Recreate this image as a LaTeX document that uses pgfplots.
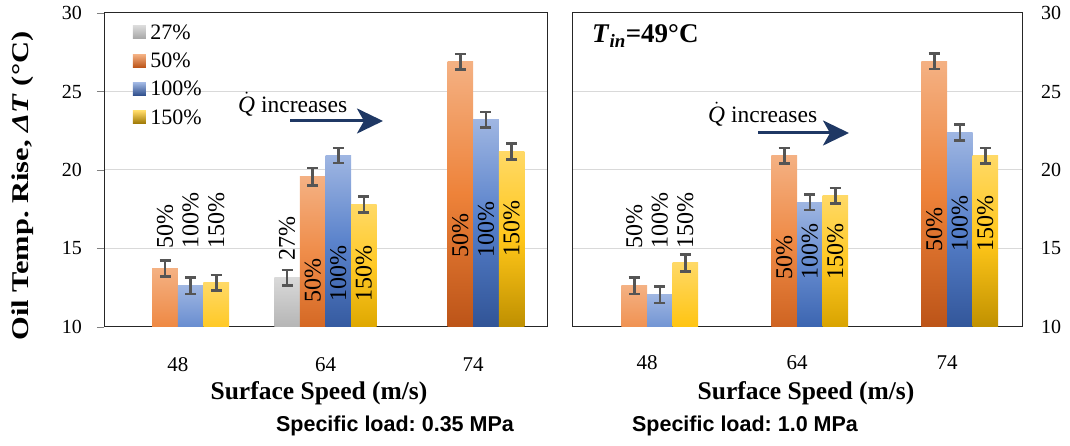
\documentclass[border=0pt]{standalone}
\usepackage{fontspec}
\setmainfont{Liberation Serif}
\newfontfamily\arialfont{Liberation Sans}
\usepackage{pgfplots}
\pgfplotsset{compat=1.18}
\usetikzlibrary{arrows.meta}
\frenchspacing

\definecolor{gridgray}{HTML}{D9D9D9}
\definecolor{errgray}{HTML}{555555}
\definecolor{arrowblue}{HTML}{1F3864}
% gradient stops along a whole bar (from value 0): A at 0, B at 0.37, C at 0.65, D at the top
\definecolor{orgA}{HTML}{7A3000}\definecolor{orgB}{HTML}{BC5418}
\definecolor{orgC}{HTML}{ED7D31}\definecolor{orgD}{HTML}{F4B183}
\definecolor{bluA}{HTML}{1F3560}\definecolor{bluB}{HTML}{2C4C8A}
\definecolor{bluC}{HTML}{4472C4}\definecolor{bluD}{HTML}{9FB6E2}
\definecolor{yelA}{HTML}{7F6000}\definecolor{yelB}{HTML}{9A7400}
\definecolor{yelC}{HTML}{FFC000}\definecolor{yelD}{HTML}{FFD966}
\definecolor{graA}{HTML}{404040}\definecolor{graB}{HTML}{7F7F7F}
\definecolor{graC}{HTML}{A5A5A5}\definecolor{graD}{HTML}{D9D9D9}

% colour #1 := gradient of family #2 at fraction #3 of the bar
\newcommand\gmix[3]{%
  \ifdim#3pt<0.37pt
    \pgfmathtruncatemacro\pp{100*#3/0.37}\colorlet{#1}{#2B!\pp!#2A}%
  \else\ifdim#3pt<0.65pt
    \pgfmathtruncatemacro\pp{100*(#3-0.37)/0.28}\colorlet{#1}{#2C!\pp!#2B}%
  \else
    \pgfmathtruncatemacro\pp{100*(#3-0.65)/0.35}\colorlet{#1}{#2D!\pp!#2C}%
  \fi\fi}
% the axis cuts bars at 10: shade only the visible part 10..v
\newcommand\barshade[2]{%
  \pgfmathsetmacro\fb{10/#2}\pgfmathsetmacro\fm{(\fb+1)/2}%
  \gmix{shB}{#1}{\fb}\gmix{shM}{#1}{\fm}}

\tikzset{dl/.style={rotate=90, anchor=west, inner sep=0pt, font=\fontsize{24}{24}\selectfont}}

\pgfplotsset{
  panel/.style={
    scale only axis, height=314pt,
    xmin=-0.5, xmax=2.5, ymin=10, ymax=30,
    xtick={0,1,2}, xticklabels={48,64,74},
    ytick={10,15,20,25,30},
    ymajorgrids, major grid style={gridgray, line width=1pt},
    axis line style={black!85, line width=1pt},
    x tick style={draw=none},
    /pgf/number format/assume math mode=true,
    xticklabel style={font=\fontsize{21}{21}\selectfont, anchor=base, yshift=-38pt, inner sep=0pt},
    yticklabel style={font=\fontsize{20}{20}\selectfont, inner sep=0pt},
    ybar, bar width=25.6pt,
    error bars/y dir=both, error bars/y explicit,
    error bars/error bar style={errgray, line width=2.6pt},
    error bars/error mark options={errgray, line width=2.6pt, mark size=5.5pt, rotate=90},
  },
  gb/.style 2 args={/utils/exec={\barshade{#1}{#2}}, draw=none,
    /tikz/top color=#1D, /tikz/bottom color=shB, /tikz/middle color=shM},
  s27/.style={bar shift=-38.4pt,
    legend image code/.code={\fill[top color=graD, bottom color=graC] (0pt,-6.5pt) rectangle (13pt,6.5pt);}},
  s50/.style={bar shift=-12.8pt,
    legend image code/.code={\fill[top color=orgD, bottom color=orgB] (0pt,-6.5pt) rectangle (13pt,6.5pt);}},
  s100/.style={bar shift=12.8pt,
    legend image code/.code={\fill[top color=bluD, bottom color=bluB] (0pt,-6.5pt) rectangle (13pt,6.5pt);}},
  s150/.style={bar shift=38.4pt,
    legend image code/.code={\fill[top color=yelD, bottom color=yelB] (0pt,-6.5pt) rectangle (13pt,6.5pt);}},
}

\begin{document}
\begin{tikzpicture}
\useasboundingbox (0,0) rectangle (1070pt,446pt);

% left panel: 0.35 MPa
\begin{axis}[panel, width=443pt, at={(104pt,119pt)}, anchor=south west,
  ytick pos=left, ytick align=outside, major tick length=7pt,
  yticklabel style={anchor=east, xshift=-15pt},
  legend style={at={(0.065,0.969)}, anchor=north west, draw=none, fill=none,
    font=\fontsize{22}{22}\selectfont, row sep=9.2pt, inner sep=0pt,
    nodes={inner sep=1.5pt},
    /tikz/every odd column/.append style={column sep=3pt}},
  legend cell align=left]
  % one bar per plot, so that each bar gets its own gradient
  \addplot[s27, gb={gra}{13.14}] coordinates {(1,13.14) +- (0,0.5)};
  \addplot[s50, gb={org}{13.73}] coordinates {(0,13.73) +- (0,0.5)};
  \addplot[s100, gb={blu}{12.63}] coordinates {(0,12.63) +- (0,0.53)};
  \addplot[s150, gb={yel}{12.82}] coordinates {(0,12.82) +- (0,0.5)};
  \legend{27\%,50\%,100\%,150\%}
  \addplot[s50, gb={org}{19.57}, forget plot] coordinates {(1,19.57) +- (0,0.55)};
  \addplot[s50, gb={org}{26.9}, forget plot] coordinates {(2,26.9) +- (0,0.5)};
  \addplot[s100, gb={blu}{20.92}, forget plot] coordinates {(1,20.92) +- (0,0.47)};
  \addplot[s100, gb={blu}{23.2}, forget plot] coordinates {(2,23.2) +- (0,0.5)};
  \addplot[s150, gb={yel}{17.8}, forget plot] coordinates {(1,17.8) +- (0,0.5)};
  \addplot[s150, gb={yel}{21.17}, forget plot] coordinates {(2,21.17) +- (0,0.5)};
  \node[dl] at ([xshift=-12.8pt]axis cs:0,15) {50\%};
  \node[dl] at ([xshift=12.8pt]axis cs:0,15) {100\%};
  \node[dl] at ([xshift=38.4pt]axis cs:0,15) {150\%};
  \node[dl] at ([xshift=-38.4pt]axis cs:1,14.2) {27\%};
  \node[dl] at ([xshift=-12.8pt]axis cs:1,11.55) {50\%};
  \node[dl] at ([xshift=12.8pt]axis cs:1,11.6) {100\%};
  \node[dl] at ([xshift=38.4pt]axis cs:1,11.6) {150\%};
  \node[dl] at ([xshift=-12.8pt]axis cs:2,14.4) {50\%};
  \node[dl] at ([xshift=12.8pt]axis cs:2,14.4) {100\%};
  \node[dl] at ([xshift=38.4pt]axis cs:2,14.5) {150\%};
\end{axis}

% right panel: 1.0 MPa
\begin{axis}[panel, width=450pt, at={(572pt,119pt)}, anchor=south west,
  yticklabel pos=right, y tick style={draw=none},
  yticklabel style={anchor=west, xshift=19pt}]
  \addplot[s50, gb={org}{12.63}] coordinates {(0,12.63) +- (0,0.53)};
  \addplot[s50, gb={org}{20.9}] coordinates {(1,20.9) +- (0,0.5)};
  \addplot[s50, gb={org}{26.92}] coordinates {(2,26.92) +- (0,0.5)};
  \addplot[s100, gb={blu}{12.05}] coordinates {(0,12.05) +- (0,0.53)};
  \addplot[s100, gb={blu}{17.95}] coordinates {(1,17.95) +- (0,0.5)};
  \addplot[s100, gb={blu}{22.38}] coordinates {(2,22.38) +- (0,0.5)};
  \addplot[s150, gb={yel}{14.08}] coordinates {(0,14.08) +- (0,0.53)};
  \addplot[s150, gb={yel}{18.35}] coordinates {(1,18.35) +- (0,0.5)};
  \addplot[s150, gb={yel}{20.9}] coordinates {(2,20.9) +- (0,0.5)};
  \node[dl] at ([xshift=-12.8pt]axis cs:0,15) {50\%};
  \node[dl] at ([xshift=12.8pt]axis cs:0,15) {100\%};
  \node[dl] at ([xshift=38.4pt]axis cs:0,15) {150\%};
  \node[dl] at ([xshift=-12.8pt]axis cs:1,13) {50\%};
  \node[dl] at ([xshift=12.8pt]axis cs:1,13) {100\%};
  \node[dl] at ([xshift=38.4pt]axis cs:1,13) {150\%};
  \node[dl] at ([xshift=-12.8pt]axis cs:2,14.8) {50\%};
  \node[dl] at ([xshift=12.8pt]axis cs:2,14.8) {100\%};
  \node[dl] at ([xshift=38.4pt]axis cs:2,14.8) {150\%};
\end{axis}

% annotations
\node[font=\fontsize{23.5}{23.5}\selectfont, anchor=base west, inner sep=0pt] at (238pt,333pt) {$\dot{\mbox{\itshape Q}}$ increases};
\draw[arrowblue, line width=3pt, -{Stealth[length=26pt, width=25pt, inset=7pt]}] (290pt,325pt) -- (383pt,325pt);
\node[font=\fontsize{23.5}{23.5}\selectfont, anchor=base west, inner sep=0pt] at (708pt,323pt) {$\dot{\mbox{\itshape Q}}$ increases};
\draw[arrowblue, line width=3pt, -{Stealth[length=26pt, width=25pt, inset=7pt]}] (758pt,313pt) -- (849pt,313pt);
\node[font=\fontsize{27}{27}\selectfont\bfseries, anchor=base west, inner sep=0pt] at (592pt,403pt) {\textit{T}\textsubscript{\textit{in}}=49°C};

% axis titles
\node[rotate=90, font=\fontsize{24}{24}\selectfont\bfseries] at (23pt,260pt) {\scalebox{1.27}[1]{Oil Temp. Rise, \textit{ΔT} (°C)}};
\node[font=\fontsize{25.5}{25.5}\selectfont\bfseries] at (319pt,53pt) {Surface Speed (m/s)};
\node[font=\fontsize{25.5}{25.5}\selectfont\bfseries] at (806pt,53pt) {Surface Speed (m/s)};
\node[font=\arialfont\fontsize{21.5}{21.5}\selectfont\bfseries] at (395pt,20pt) {Specific load: 0.35 MPa};
\node[font=\arialfont\fontsize{21.5}{21.5}\selectfont\bfseries] at (745pt,20pt) {Specific load: 1.0 MPa};
\end{tikzpicture}
\end{document}
